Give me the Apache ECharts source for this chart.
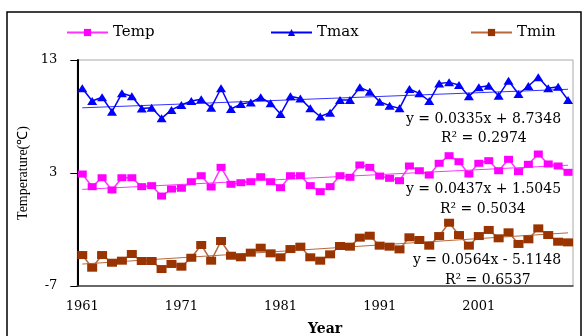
<!DOCTYPE html>
<html><head><meta charset="utf-8">
<script src="https://cdn.jsdelivr.net/npm/echarts@6/dist/echarts.min.js"></script>
<style>html,body{margin:0;padding:0;background:#fff}#c{width:587px;height:336px}</style>
</head><body><div id="c"></div><script>
const years = ['1961','1962','1963','1964','1965','1966','1967','1968','1969','1970',
  '1971','1972','1973','1974','1975','1976','1977','1978','1979','1980',
  '1981','1982','1983','1984','1985','1986','1987','1988','1989','1990',
  '1991','1992','1993','1994','1995','1996','1997','1998','1999','2000',
  '2001','2002','2003','2004','2005','2006','2007','2008','2009','2010'];
const temp = [2.91,1.79,2.58,1.50,2.58,2.58,1.79,1.88,0.96,1.58,
  1.65,2.23,2.76,1.76,3.50,2.00,2.14,2.23,2.67,2.23,
  1.70,2.76,2.76,1.88,1.35,1.79,2.76,2.62,3.71,3.50,
  2.73,2.53,2.32,3.62,3.20,2.82,3.86,4.53,4.00,2.91,
  3.86,4.09,3.20,4.21,3.12,3.77,4.68,3.80,3.62,3.06];
const tmax = [10.50,9.37,9.70,8.43,10.05,9.80,8.70,8.78,7.84,8.58,
  9.02,9.37,9.52,8.78,10.50,8.66,9.10,9.25,9.70,9.17,
  8.22,9.80,9.60,8.72,8.00,8.34,9.46,9.46,10.58,10.20,
  9.31,8.96,8.72,10.43,10.05,9.37,10.93,11.02,10.79,9.80,
  10.58,10.73,9.84,11.17,9.99,10.70,11.47,10.50,10.64,9.46];
const tmin = [-4.26,-5.38,-4.26,-4.94,-4.76,-4.17,-4.79,-4.79,-5.50,-5.05,
  -5.29,-4.50,-3.37,-4.76,-3.02,-4.32,-4.46,-4.05,-3.61,-4.11,
  -4.46,-3.73,-3.52,-4.46,-4.76,-4.20,-3.46,-3.52,-2.72,-2.55,
  -3.43,-3.52,-3.76,-2.69,-2.93,-3.43,-2.58,-1.40,-2.49,-3.43,
  -2.58,-2.04,-2.78,-2.25,-3.28,-2.87,-1.90,-2.49,-3.08,-3.14];
const seriesNames = ['Temp','Tmax','Tmin'];
const slopes = [0.0437, 0.0335, 0.0564];
const intercepts = [1.5045, 8.7348, -5.1148];
const r2Values = ['0.5034','0.2974','0.6537'];
const yTicks = [-7, 3, 13];

function trend(k){
  const n = years.length;
  return years.map((y,i)=> (i===0||i===n-1) ? +(intercepts[k] + slopes[k]*(i+1)).toFixed(4) : null);
}
function eqText(k){
  const b = intercepts[k];
  return 'y = ' + slopes[k].toFixed(4) + 'x ' + (b<0?'- ':'+ ') + Math.abs(b).toFixed(4);
}
const serif = 'DejaVu Serif';
const chart = echarts.init(document.getElementById('c'), null, {renderer:'canvas'});
const legendBase = {itemWidth:41, itemHeight:9, top:25, padding:0, textStyle:{fontFamily:serif,fontSize:15,color:'#000'}};
const eqPos = [[406,189,440,209],[406,119,441,138],[413,260,445,280]];
const graphics = [
  {type:'rect', shape:{x:7,y:12,width:574,height:340}, style:{fill:'none',stroke:'#000',lineWidth:1.5}, silent:true},
  {type:'text', x:23, y:173, rotation:Math.PI/2, style:{text:'Temperature(\u2103)', font:'14px "Liberation Serif"', fill:'#000', align:'center', verticalAlign:'middle'}}
];
[0,1,2].forEach(k=>{
  const p = eqPos[k];
  graphics.push({type:'text', x:p[0], y:p[1], style:{text:eqText(k), font:'14px "DejaVu Serif"', fill:'#000', align:'left', verticalAlign:'middle'}});
  graphics.push({type:'text', x:p[2], y:p[3], style:{text:'R\u00b2 = '+r2Values[k], font:'14px "DejaVu Serif"', fill:'#000', align:'left', verticalAlign:'middle'}});
});
chart.setOption({
  animation:false,
  backgroundColor:'#fff',
  grid:{left:77.3, right:14, top:60, bottom:50, containLabel:false, outerBoundsMode:'none', show:true, borderColor:'#aaa', borderWidth:1, backgroundColor:'transparent'},
  legend:[
    Object.assign({}, legendBase, {left:66, data:['Temp']}),
    Object.assign({}, legendBase, {left:270, data:['Tmax']}),
    Object.assign({}, legendBase, {left:470, data:['Tmin']})
  ],
  xAxis:{type:'category', data:years, boundaryGap:true,
    name:'Year', nameLocation:'middle', nameGap:36,
    nameTextStyle:{fontFamily:serif, fontSize:14, fontWeight:'bold', color:'#000'},
    axisLine:{onZero:false, lineStyle:{color:'#444', width:1.5}},
    axisTick:{interval:4, length:5, lineStyle:{color:'#444'}},
    axisLabel:{interval:9, margin:14, fontFamily:serif, fontSize:13, color:'#000'},
    splitLine:{show:false}},
  yAxis:{type:'value', min:yTicks[0], max:yTicks[2], interval:10,
    axisLine:{show:true, lineStyle:{color:'#000', width:2}},
    axisTick:{show:true, length:7, lineStyle:{color:'#000'}},
    axisLabel:{margin:20, fontFamily:serif, fontSize:13, color:'#000'},
    splitLine:{show:false}},
  graphic:graphics,
  series:[
    {name:'Temp', type:'line', data:temp, symbol:'rect', symbolSize:[9,7], showAllSymbol:true, itemStyle:{color:'#ff00ff'}, lineStyle:{color:'#ff33ff', width:1.5}, z:3},
    {name:'Tmax', type:'line', data:tmax, symbol:'triangle', symbolSize:[10,8], showAllSymbol:true, itemStyle:{color:'#0000ff'}, lineStyle:{color:'#0000ff', width:1.5}, z:3},
    {name:'Tmin', type:'line', data:tmin, symbol:'rect', symbolSize:[10,8], showAllSymbol:true, itemStyle:{color:'#993300'}, lineStyle:{color:'#b8683c', width:1.5}, z:3},
    {name:'TempTrend', type:'line', data:trend(0), connectNulls:true, symbol:'none', lineStyle:{color:'#ff33ff', width:1}, silent:true, z:2},
    {name:'TmaxTrend', type:'line', data:trend(1), connectNulls:true, symbol:'none', lineStyle:{color:'#3333ff', width:1}, silent:true, z:2},
    {name:'TminTrend', type:'line', data:trend(2), connectNulls:true, symbol:'none', lineStyle:{color:'#b8683c', width:1}, silent:true, z:2}
  ]
});
</script></body></html>
